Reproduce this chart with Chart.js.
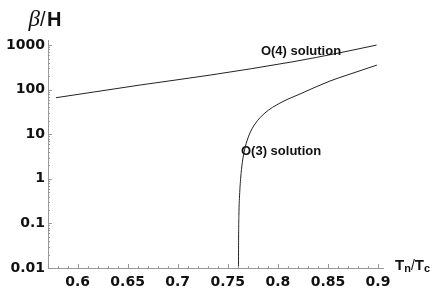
<!DOCTYPE html>
<html>
<head>
<meta charset="utf-8">
<script src="https://cdn.jsdelivr.net/npm/chart.js@4.4.0/dist/chart.umd.min.js"></script>
<style>
  html, body { margin: 0; padding: 0; background: #fff; }
  #wrap { width: 442px; height: 300px; }
</style>
</head>
<body>
<div id="wrap"><canvas id="betaChart" width="442" height="300"></canvas></div>
<script>
// tick labels
const xTickLabels = [0.6, 0.65, 0.7, 0.75, 0.8, 0.85, 0.9];
const yTickLabels = [0.01, 0.1, 1, 10, 100, 1000];

// O(4) solution
const o4X = [0.5785, 0.6624, 0.7322, 0.8151, 0.862, 0.8986];
const o4Y = [66, 127, 212, 423, 672, 1000];

// O(3) solution
const o3X = [0.7607, 0.7608, 0.7611, 0.7618, 0.7629, 0.7645, 0.7672, 0.7717, 0.7772, 0.7871, 0.8021, 0.8221, 0.852, 0.869, 0.8989];
const o3Y = [0.01, 0.042, 0.15, 0.43, 1.04, 2.3, 4.9, 10.1, 17, 30, 50, 80, 156, 212, 356];

// curve labels: text, left x, middle y (data units)
const curveNames = ['O(4) solution', 'O(3) solution'];
const curveNameX = [0.7831, 0.7632];
const curveNameY = [733, 4.2];

const toPoints = (xs, ys) => xs.map((x, i) => ({ x: x, y: ys[i] }));
const isLabelled = v => xTickLabels.some(t => Math.abs(t - v) < 1e-6);
const isDecade = v => yTickLabels.some(t => Math.abs(t - v) / t < 1e-6);

const tickFont = { family: 'DejaVu Sans', size: 14, weight: 'bold' };

// draws inward tick marks, the curve names and the axis titles
const decorations = {
  id: 'decorations',
  afterDraw(chart) {
    const ctx = chart.ctx;
    const xs = chart.scales.x, ys = chart.scales.y;
    const area = chart.chartArea;
    ctx.save();
    ctx.strokeStyle = '#9a9a9a';
    ctx.lineWidth = 1;
    xs.ticks.forEach(t => {
      const px = Math.round(xs.getPixelForValue(t.value)) + 0.5;
      const len = isLabelled(t.value) ? 4 : 2;
      ctx.beginPath();
      ctx.moveTo(px, area.bottom);
      ctx.lineTo(px, area.bottom - len);
      ctx.stroke();
    });
    ys.ticks.forEach(t => {
      const py = Math.round(ys.getPixelForValue(t.value)) + 0.5;
      const len = isDecade(t.value) ? 4 : 2;
      ctx.beginPath();
      ctx.moveTo(area.left, py);
      ctx.lineTo(area.left + len, py);
      ctx.stroke();
    });

    ctx.fillStyle = '#111';
    ctx.textBaseline = 'middle';
    ctx.textAlign = 'left';
    ctx.font = 'bold 13px "Liberation Sans"';
    curveNames.forEach((name, i) => {
      ctx.fillText(name, xs.getPixelForValue(curveNameX[i]), ys.getPixelForValue(curveNameY[i]));
    });

    // y title: beta/H
    ctx.textBaseline = 'alphabetic';
    ctx.textAlign = 'right';
    ctx.font = 'italic 23px "Liberation Serif"';
    ctx.fillText('\u03b2', area.left - 8, 26);
    ctx.textAlign = 'left';
    ctx.font = '20px "Liberation Sans"';
    ctx.fillText('/', area.left - 8, 26);
    ctx.font = 'bold 20px "Liberation Sans"';
    ctx.fillText('H', area.left - 1, 26);

    // x title: Tn/Tc
    let x = area.right + 12;
    const base = area.bottom + 2;
    const parts = [['T', 'bold 15px "Liberation Sans"', 0], ['n', 'bold 11px "Liberation Sans"', 2],
                   ['/', '14px "Liberation Sans"', 0], ['T', 'bold 15px "Liberation Sans"', 0],
                   ['c', 'bold 11px "Liberation Sans"', 2]];
    parts.forEach(p => {
      ctx.font = p[1];
      ctx.fillText(p[0], x, base + p[2]);
      x += ctx.measureText(p[0]).width;
    });
    ctx.restore();
  }
};

const ctx = document.getElementById('betaChart').getContext('2d');
const betaChart = new Chart(ctx, {
  type: 'scatter',
  data: {
    datasets: [{
      label: 'O(4) solution',
      data: toPoints(o4X, o4Y),
      showLine: true,
      borderColor: '#222',
      borderWidth: 1,
      pointRadius: 0,
      cubicInterpolationMode: 'monotone'
    }, {
      label: 'O(3) solution',
      data: toPoints(o3X, o3Y),
      showLine: true,
      borderColor: '#222',
      borderWidth: 1,
      pointRadius: 0,
      cubicInterpolationMode: 'monotone'
    }]
  },
  options: {
    responsive: false,
    animation: false,
    devicePixelRatio: 1,
    layout: { padding: { top: 40, right: 59, left: 0, bottom: 0 } },
    plugins: { legend: { display: false }, tooltip: { enabled: false } },
    scales: {
      x: {
        type: 'linear',
        min: 0.5705,
        max: 0.905,
        border: { color: '#999', width: 1 },
        grid: { drawOnChartArea: false, drawTicks: false },
        afterBuildTicks: scale => {
          const ticks = [];
          for (let i = 58; i <= 90; i++) ticks.push({ value: i / 100 });
          scale.ticks = ticks;
        },
        afterFit: scale => { scale.height = 32; },
        ticks: {
          autoSkip: false,
          maxRotation: 0,
          padding: 6,
          color: '#111',
          font: tickFont,
          callback: v => isLabelled(v) ? String(+v.toFixed(2)) : ''
        }
      },
      y: {
        type: 'logarithmic',
        min: 0.01,
        max: 1300,
        border: { color: '#999', width: 1 },
        grid: { drawOnChartArea: false, drawTicks: false },
        afterBuildTicks: scale => {
          const ticks = [];
          yTickLabels.forEach(d => {
            for (let m = 1; m <= 9; m++) {
              const v = d * m;
              if (v <= 1300) ticks.push({ value: v, major: m === 1 });
            }
          });
          scale.ticks = ticks;
        },
        afterFit: scale => { scale.width = 48; },
        ticks: {
          autoSkip: false,
          padding: 3,
          color: '#111',
          font: tickFont,
          callback: v => isDecade(v) ? String(v) : ''
        }
      }
    }
  },
  plugins: [decorations]
});
</script>
</body>
</html>
